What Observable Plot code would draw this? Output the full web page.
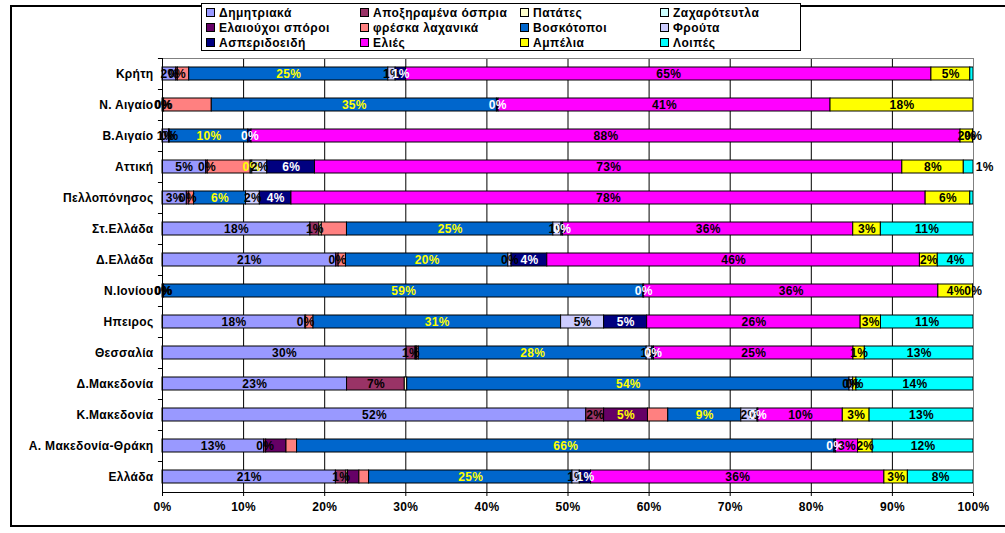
<!DOCTYPE html>
<html>
<head>
<meta charset="utf-8">
<script src="https://cdn.jsdelivr.net/npm/d3@7"></script>
<script src="https://cdn.jsdelivr.net/npm/@observablehq/plot@0.6"></script>
<style>
  html, body { margin: 0; padding: 0; background: #fff; }
  #wrap { position: relative; width: 1005px; height: 533px; overflow: hidden; font-family: 'Liberation Sans', Arial, sans-serif; }
  #border { position: absolute; left: 10px; top: 5px; width: 1010px; height: 518px; border: 2px solid #000; pointer-events: none; }
  #legend { position: absolute; left: 201px; top: 3px; width: 598px; height: 46px; border: 1px solid #000; background: #fff; }
  .li { position: absolute; font-size: 12px; font-weight: bold; color: #000; white-space: nowrap; line-height: 13px; letter-spacing: 0.5px; }
  .sw { display: inline-block; width: 7px; height: 7px; border: 1px solid #000; margin-right: 4px; vertical-align: 0px; }
</style>
</head>
<body>
<div id="wrap">
  <div id="chart"></div>
  <div id="border"></div>
  <div id="legend"></div>
</div>
<script>
// ---- data ----
const regions = ["Κρήτη","Ν. Αιγαίο","Β.Αιγαίο","Αττική","Πελλοπόνησος","Στ.Ελλάδα","Δ.Ελλάδα","Ν.Ιονίου","Ηπειρος","Θεσσαλία","Δ.Μακεδονία","Κ.Μακεδονία","Α. Μακεδονία-Θράκη","Ελλάδα"];
const seriesNames = ["Δημητριακά","Αποξηραμένα όσπρια","Πατάτες","Ζαχαρότευτλα","Ελαιούχοι σπόροι","φρέσκα λαχανικά","Βοσκότοποι","Φρούτα","Ασπεριδοειδή","Ελιές","Αμπέλια","Λοιπές"];
const seriesColors = ["#9999FF","#993366","#FFFFCC","#CCFFFF","#660066","#FF8080","#0066CC","#CCCCFF","#000080","#FF00FF","#FFFF00","#00FFFF"];
const labelColors = ["#000000","#000000","#000000","#000000","#FFFF00","#000000","#FFFF00","#000000","#FFFFFF","#000000","#000000","#000000"];
const seriesLabelled = [true,true,false,false,false,false,true,true,true,true,true,true];
const extraLabels = [["Κ.Μακεδονία","Ελαιούχοι σπόροι"]];
const hiddenLabels = [["Κρήτη","Λοιπές"],["Πελλοπόνησος","Λοιπές"]];
const outsideLabels = [["Αττική","Λοιπές"]];

const dimitriaka   = [1.7,0.1,0.8,5.4,3.0,18.2,21.4,0.1,17.6,30.1,22.7,52.2,12.5,21.4];
const ospria       = [0.2,0.1,0.1,0.2,0.3,1.1,0.3,0.1,0.1,1.1,7.1,2.2,0.25,1.3];
const patates      = [0,0,0,0,0,0.3,0,0,0,0.1,0.3,0,0,0.2];
const zaxarotefla  = [0,0,0,0,0,0,0,0,0,0,0,0,0,0];
const elaiouxoi    = [0,0,0,0,0,0,0,0,0,0.1,0,5.4,2.5,1.4];
const laxanika     = [1.4,5.9,0,5.3,0.6,3.1,0.9,0,0.9,0.2,0,2.5,1.3,1.2];
const boskotopoi   = [24.6,35.3,9.7,0.2,6.4,25.4,20.0,59.3,30.5,28.1,54.4,9.0,66.1,25.1];
const frouta       = [0.9,0,0,1.85,1.7,1.0,0.4,0,5.3,0.7,0.45,2.0,0,0.9];
const esperidoeidi = [1.3,0.2,0.4,5.9,3.9,0.2,4.4,0.1,5.3,0.2,0,0.1,0.2,1.4];
const elies        = [64.9,41.1,87.6,72.6,78.2,35.7,45.9,36.4,26.3,24.6,0,10.4,2.7,36.2];
const ampelia      = [4.8,17.7,1.55,7.6,5.5,3.4,2.2,4.3,2.5,1.4,0.4,3.3,1.8,2.9];
const loipes       = [0.4,0,0.05,1.2,0.4,11.4,4.4,0.05,11.4,13.4,14.4,12.8,12.4,8.1];

const xTicks = [0,10,20,30,40,50,60,70,80,90,100];

// ---- build table ----
const seriesValues = [dimitriaka, ospria, patates, zaxarotefla, elaiouxoi, laxanika, boskotopoi, frouta, esperidoeidi, elies, ampelia, loipes];
const data = [];
regions.forEach((r, i) => {
  seriesNames.forEach((s, j) => {
    const v = seriesValues[j][i];
    if (v > 0) data.push({region: r, series: s, j, value: v});
  });
});
const has = (list, d) => list.some(([r, s]) => r === d.region && s === d.series);
const labelText = d => {
  if (has(outsideLabels, d)) return null;
  if (has(hiddenLabels, d)) return null;
  if (!seriesLabelled[d.j] && !has(extraLabels, d)) return null;
  return Math.round(d.value) + "%";
};

const W = 1005, H = 533, mT = 58, mB = 41, mL = 162, mR = 32;
const step = (H - mT - mB) / regions.length;
const stackOpts = {x: "value", y: "region", z: "series", offset: "normalize"};

const chart = Plot.plot({
  width: W, height: H,
  marginLeft: mL, marginRight: mR, marginTop: mT, marginBottom: mB,
  style: {fontFamily: "'Liberation Sans', Arial, sans-serif", fontSize: "12px", fontWeight: "bold", letterSpacing: "0.3px", color: "#000", background: "transparent"},
  x: {domain: [0, 1], ticks: xTicks.map(t => t / 100), tickFormat: d => Math.round(d * 100) + "%", tickSize: 4, tickPadding: 6, label: null},
  y: {domain: regions, paddingInner: 0.59, paddingOuter: 0.295, tickSize: 0, tickPadding: 9, label: null},
  color: {type: "identity"},
  marks: [
    Plot.ruleX(xTicks.slice(1, -1).map(t => t / 100), {stroke: "#000", strokeWidth: 1}),
    Plot.barX(data, Plot.stackX({...stackOpts, fill: d => seriesColors[d.j], stroke: "#000", strokeWidth: 1})),
    Plot.frame({stroke: "#808080"}),
    Plot.ruleX([0], {stroke: "#000"}),
    Plot.ruleY([regions[regions.length - 1]], {dy: step / 2, x1: 0, x2: 1, stroke: "#000"}),
    Plot.ruleY(regions, {dy: -step / 2, x1: -0.005, x2: 0, stroke: "#000"}),
    Plot.text(data, Plot.stackX({...stackOpts, text: labelText, fill: d => labelColors[d.j]})),
    Plot.text(data, Plot.stackX({...stackOpts, text: d => has(outsideLabels, d) ? Math.round(d.value) + "%" : null, fill: d => labelColors[d.j], dx: 16}))
  ]
});
document.getElementById("chart").appendChild(chart);

// ---- legend ----
const legend = document.getElementById("legend");
const colX = [4, 158, 318, 458];
const rowY = [3, 18, 33];
seriesNames.forEach((s, j) => {
  const item = document.createElement("div");
  item.className = "li";
  item.style.left = colX[j % 4] + "px";
  item.style.top = rowY[Math.floor(j / 4)] + "px";
  const sw = document.createElement("span");
  sw.className = "sw";
  sw.style.background = seriesColors[j];
  item.appendChild(sw);
  item.appendChild(document.createTextNode(s));
  legend.appendChild(item);
});
</script>
</body>
</html>
